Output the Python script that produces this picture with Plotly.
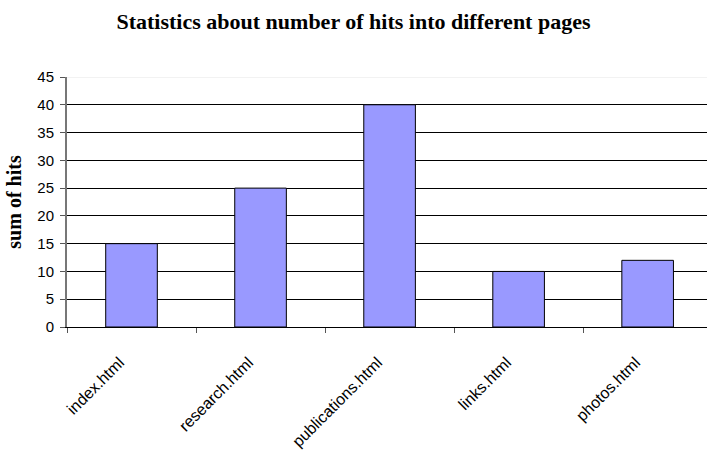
import plotly.graph_objects as go

categories = ["index.html", "research.html", "publications.html", "links.html", "photos.html"]
hits = [15, 25, 40, 10, 12]
y_ticks = [0, 5, 10, 15, 20, 25, 30, 35, 40, 45]

fig = go.Figure()
fig.add_trace(go.Bar(
    x=categories, y=hits,
    marker=dict(color="#9999FF", line=dict(color="black", width=1)),
    width=0.4,
))

fig.add_shape(type="line", xref="paper", yref="y", x0=0, x1=1, y0=45, y1=45,
              line=dict(color="#e6e6e6", width=1), layer="above")

fig.update_layout(
    width=707, height=450,
    margin=dict(l=67, r=0, t=77, b=123),
    paper_bgcolor="white", plot_bgcolor="white",
    showlegend=False,
    title=dict(text="<b>Statistics about number of hits into different pages</b>",
               x=0.5, xanchor="center", xref="container", y=0.952, yanchor="middle",
               font=dict(family="Liberation Serif", size=22, color="black")),
    font=dict(family="Liberation Sans", size=15, color="black"),
)
fig.update_xaxes(
    type="category", range=[-0.5, 4.46],
    tickangle=-45, tickson="boundaries", ticks="outside", ticklen=5,
    tickcolor="#555", showline=True, linecolor="black", linewidth=1,
    showgrid=False, tickfont=dict(family="Liberation Sans", size=16),
    ticklabelstandoff=19, ticklabelshift=-12,
)
fig.update_yaxes(
    range=[0, 45], tickvals=y_ticks, ticks="outside", ticklen=5, tickcolor="#555",
    showline=True, linecolor="#777", linewidth=2,
    showgrid=True, gridcolor="black", gridwidth=1, zeroline=False,
    tickfont=dict(family="Liberation Sans", size=15), ticklabelstandoff=3,
    title=dict(text="<b>sum of hits</b>", standoff=10,
               font=dict(family="Liberation Serif", size=20)),
)

fig.write_html("out.html")
